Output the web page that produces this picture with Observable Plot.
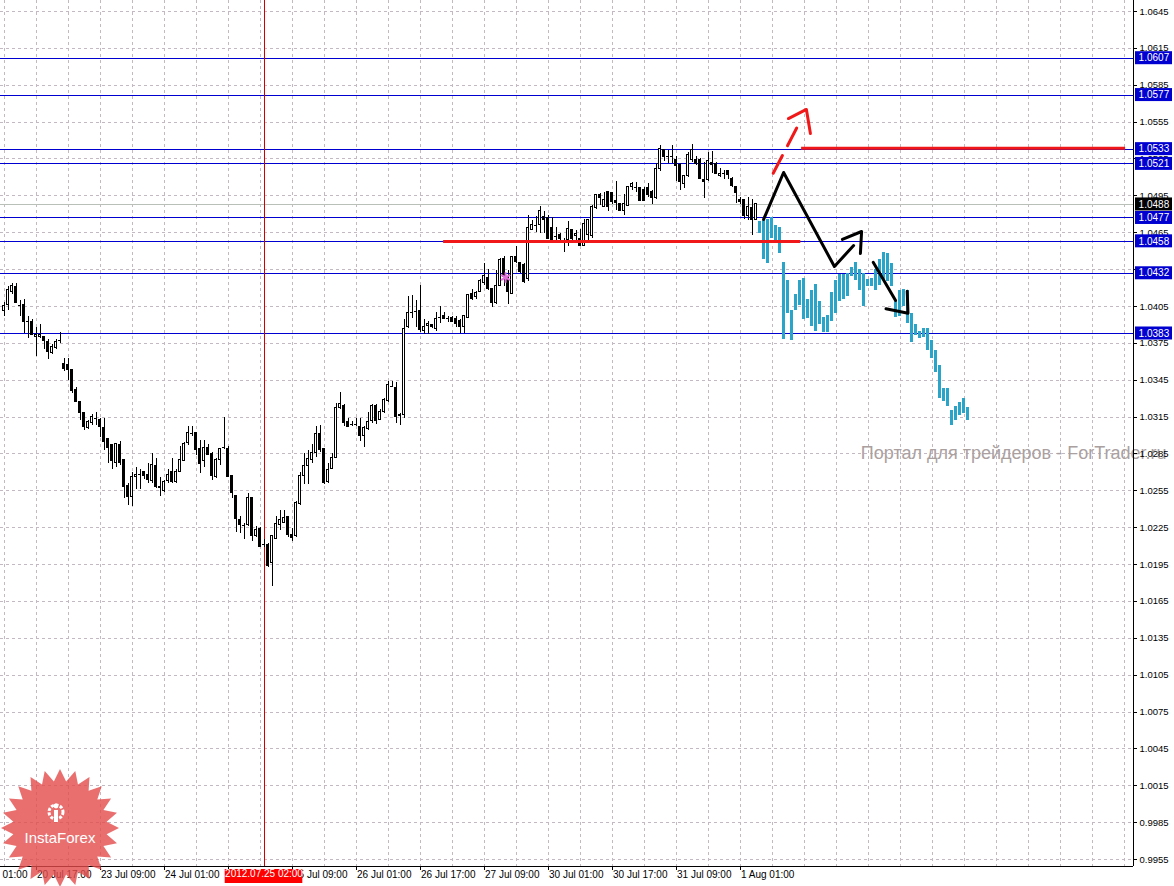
<!DOCTYPE html>
<html><head><meta charset="utf-8">
<script src="https://cdn.jsdelivr.net/npm/d3@7"></script>
<script src="https://cdn.jsdelivr.net/npm/@observablehq/plot@0.6"></script>
<style>html,body{margin:0;padding:0;background:#fff;overflow:hidden}</style>
</head><body><div id="chart"></div>
<script>
// ---- data (H1 candles) ----
const open = [1.0401,1.0406,1.0417,1.0421,1.0406,1.0406,1.0393,1.0392,1.0380,1.0380,
1.0380,1.0376,1.0367,1.0371,1.0377,1.0358,1.0357,1.0353,1.0337,1.0327,
1.0318,1.0306,1.0310,1.0314,1.0313,1.0306,1.0297,1.0292,1.0278,1.0292,
1.0280,1.0259,1.0250,1.0266,1.0268,1.0270,1.0268,1.0263,1.0275,1.0258,
1.0255,1.0263,1.0270,1.0262,1.0270,1.0279,1.0294,1.0302,1.0302,1.0289,
1.0279,1.0290,1.0285,1.0266,1.0280,1.0290,1.0289,1.0267,1.0251,1.0231,
1.0227,1.0227,1.0249,1.0218,1.0224,1.0211,1.0211,1.0196,1.0216,1.0227,
1.0229,1.0234,1.0219,1.0218,1.0244,1.0267,1.0275,1.0280,1.0286,1.0301,
1.0289,1.0262,1.0273,1.0282,1.0322,1.0324,1.0311,1.0309,1.0309,1.0307,
1.0300,1.0305,1.0312,1.0324,1.0313,1.0319,1.0328,1.0340,1.0339,1.0317,
1.0317,1.0388,1.0400,1.0401,1.0401,1.0385,1.0389,1.0390,1.0387,1.0396,
1.0397,1.0395,1.0396,1.0395,1.0393,1.0388,1.0396,1.0415,1.0413,1.0417,
1.0424,1.0428,1.0419,1.0408,1.0422,1.0444,1.0429,1.0415,1.0445,1.0440,
1.0439,1.0427,1.0467,1.0471,1.0471,1.0478,1.0477,1.0469,1.0462,1.0463,
1.0458,1.0459,1.0467,1.0462,1.0460,1.0454,1.0463,1.0462,1.0485,1.0496,
1.0486,1.0498,1.0497,1.0491,1.0488,1.0483,1.0487,1.0502,1.0502,1.0501,
1.0500,1.0501,1.0498,1.0493,1.0517,1.0532,1.0527,1.0527,1.0524,1.0520,
1.0505,1.0511,1.0524,1.0524,1.0524,1.0508,1.0508,1.0522,1.0521,1.0511,
1.0513,1.0515,1.0509,1.0502,1.0492,1.0492,1.0479,1.0485,1.0475];
const high = [1.0408,1.0421,1.0424,1.0424,1.0410,1.0411,1.0397,1.0394,1.0388,1.0390,
1.0380,1.0378,1.0374,1.0378,1.0384,1.0363,1.0363,1.0353,1.0339,1.0327,
1.0318,1.0312,1.0317,1.0319,1.0314,1.0314,1.0297,1.0293,1.0293,1.0295,
1.0280,1.0261,1.0270,1.0274,1.0272,1.0270,1.0277,1.0285,1.0281,1.0266,
1.0263,1.0272,1.0281,1.0272,1.0291,1.0294,1.0307,1.0307,1.0302,1.0296,
1.0296,1.0293,1.0286,1.0281,1.0289,1.0315,1.0291,1.0267,1.0251,1.0234,
1.0228,1.0253,1.0249,1.0226,1.0225,1.0215,1.0212,1.0218,1.0234,1.0239,
1.0239,1.0234,1.0224,1.0246,1.0270,1.0285,1.0288,1.0293,1.0307,1.0308,
1.0289,1.0277,1.0285,1.0326,1.0335,1.0325,1.0314,1.0311,1.0314,1.0314,
1.0307,1.0319,1.0325,1.0325,1.0321,1.0330,1.0344,1.0344,1.0343,1.0318,
1.0394,1.0413,1.0414,1.0410,1.0422,1.0394,1.0393,1.0390,1.0400,1.0405,
1.0400,1.0397,1.0397,1.0397,1.0394,1.0398,1.0414,1.0419,1.0417,1.0427,
1.0440,1.0435,1.0420,1.0434,1.0444,1.0446,1.0434,1.0446,1.0454,1.0440,
1.0440,1.0479,1.0475,1.0478,1.0486,1.0482,1.0479,1.0477,1.0469,1.0464,
1.0460,1.0474,1.0468,1.0467,1.0468,1.0476,1.0475,1.0487,1.0496,1.0497,
1.0498,1.0498,1.0498,1.0507,1.0489,1.0496,1.0503,1.0506,1.0506,1.0502,
1.0502,1.0505,1.0499,1.0521,1.0536,1.0533,1.0532,1.0536,1.0527,1.0521,
1.0511,1.0530,1.0537,1.0527,1.0525,1.0522,1.0530,1.0531,1.0522,1.0517,
1.0516,1.0516,1.0510,1.0502,1.0494,1.0492,1.0494,1.0492,1.0488];
const low = [1.0397,1.0402,1.0415,1.0408,1.0397,1.0383,1.0379,1.0381,1.0364,1.0379,
1.0370,1.0362,1.0366,1.0370,1.0375,1.0352,1.0345,1.0334,1.0327,1.0312,
1.0304,1.0305,1.0308,1.0308,1.0298,1.0288,1.0277,1.0272,1.0274,1.0276,
1.0249,1.0243,1.0242,1.0256,1.0256,1.0264,1.0261,1.0261,1.0257,1.0250,
1.0254,1.0261,1.0261,1.0261,1.0270,1.0279,1.0292,1.0299,1.0284,1.0269,
1.0274,1.0284,1.0263,1.0265,1.0276,1.0289,1.0266,1.0249,1.0221,1.0220,
1.0215,1.0226,1.0214,1.0217,1.0209,1.0209,1.0193,1.0177,1.0215,1.0223,
1.0228,1.0217,1.0214,1.0217,1.0243,1.0260,1.0260,1.0277,1.0282,1.0286,
1.0260,1.0261,1.0272,1.0282,1.0321,1.0307,1.0307,1.0307,1.0307,1.0295,
1.0290,1.0304,1.0310,1.0309,1.0312,1.0318,1.0327,1.0339,1.0310,1.0308,
1.0314,1.0387,1.0395,1.0388,1.0384,1.0382,1.0382,1.0387,1.0385,1.0391,
1.0395,1.0392,1.0392,1.0388,1.0383,1.0383,1.0396,1.0410,1.0411,1.0416,
1.0422,1.0418,1.0404,1.0407,1.0421,1.0421,1.0407,1.0415,1.0440,1.0432,
1.0424,1.0425,1.0467,1.0465,1.0464,1.0464,1.0460,1.0459,1.0456,1.0456,
1.0449,1.0454,1.0458,1.0459,1.0454,1.0454,1.0459,1.0460,1.0484,1.0487,
1.0486,1.0482,1.0488,1.0483,1.0483,1.0479,1.0487,1.0499,1.0498,1.0490,
1.0490,1.0494,1.0488,1.0492,1.0515,1.0523,1.0521,1.0521,1.0507,1.0499,
1.0501,1.0510,1.0522,1.0520,1.0508,1.0493,1.0507,1.0513,1.0512,1.0510,
1.0508,1.0508,1.0502,1.0489,1.0488,1.0476,1.0475,1.0463,1.0475];
const close = [1.0405,1.0418,1.0422,1.0408,1.0406,1.0392,1.0393,1.0382,1.0382,1.0382,
1.0377,1.0368,1.0372,1.0376,1.0377,1.0354,1.0353,1.0336,1.0327,1.0318,
1.0307,1.0311,1.0315,1.0314,1.0307,1.0295,1.0290,1.0279,1.0293,1.0278,
1.0258,1.0250,1.0266,1.0268,1.0268,1.0267,1.0264,1.0276,1.0258,1.0257,
1.0262,1.0268,1.0262,1.0270,1.0280,1.0293,1.0302,1.0302,1.0288,1.0277,
1.0290,1.0284,1.0267,1.0280,1.0289,1.0290,1.0266,1.0253,1.0232,1.0227,
1.0227,1.0249,1.0218,1.0223,1.0209,1.0211,1.0194,1.0218,1.0228,1.0231,
1.0233,1.0219,1.0217,1.0245,1.0267,1.0275,1.0281,1.0286,1.0301,1.0288,
1.0261,1.0272,1.0282,1.0322,1.0326,1.0310,1.0307,1.0309,1.0309,1.0300,
1.0306,1.0311,1.0324,1.0312,1.0319,1.0329,1.0341,1.0340,1.0315,1.0316,
1.0387,1.0400,1.0400,1.0401,1.0386,1.0388,1.0391,1.0388,1.0395,1.0396,
1.0395,1.0395,1.0392,1.0391,1.0388,1.0397,1.0414,1.0411,1.0416,1.0426,
1.0430,1.0419,1.0408,1.0422,1.0443,1.0429,1.0417,1.0445,1.0441,1.0433,
1.0425,1.0469,1.0471,1.0471,1.0483,1.0475,1.0460,1.0459,1.0462,1.0460,
1.0458,1.0468,1.0460,1.0464,1.0454,1.0472,1.0475,1.0486,1.0496,1.0493,
1.0492,1.0486,1.0490,1.0489,1.0483,1.0488,1.0502,1.0505,1.0502,1.0491,
1.0491,1.0496,1.0493,1.0517,1.0533,1.0527,1.0527,1.0527,1.0519,1.0506,
1.0511,1.0528,1.0532,1.0521,1.0509,1.0506,1.0523,1.0520,1.0513,1.0513,
1.0513,1.0512,1.0503,1.0497,1.0490,1.0479,1.0486,1.0475,1.0488];

// cyan projected bars (start right after the last candle)
const forecastStart = 189;
const forecastHigh = [1.0474,1.0475,1.0476,1.0477,1.0471,1.0469,1.0441,1.0426,1.0402,1.0415,
1.0426,1.0428,1.0411,1.0418,1.0423,1.0409,1.0396,1.0398,1.0416,1.0426,
1.0431,1.0431,1.0432,1.0437,1.0441,1.0435,1.0432,1.0427,1.0428,1.0435,
1.0443,1.0449,1.0448,1.0440,1.0410,1.0418,1.0419,1.0418,1.0399,1.0390,
1.0385,1.0387,1.0387,1.0377,1.0369,1.0357,1.0338,1.0338,1.0320,1.0324,
1.0327,1.0330,1.0323];
const forecastLow = [1.0464,1.0443,1.0440,1.0460,1.0459,1.0448,1.0378,1.0399,1.0377,1.0402,
1.0406,1.0394,1.0395,1.0389,1.0385,1.0390,1.0384,1.0384,1.0393,1.0399,
1.0409,1.0411,1.0413,1.0429,1.0426,1.0418,1.0405,1.0421,1.0421,1.0418,
1.0422,1.0427,1.0425,1.0421,1.0396,1.0397,1.0405,1.0391,1.0376,1.0381,
1.0379,1.0380,1.0369,1.0363,1.0351,1.0330,1.0328,1.0324,1.0308,1.0312,
1.0316,1.0318,1.0312];

// horizontal levels
const blueLevels = [1.0607, 1.0577, 1.0533, 1.0521, 1.0477, 1.0458, 1.0432, 1.0383];
const bidPrice = 1.0488;
const redLevels = [{price: 1.04579, from: 109.9, to: 199.2}, {price: 1.05338, from: 199.4, to: 280.4}];

// axis labels (the 24 Jul 17:00 label is hidden under the cursor date box)
const priceTicks = d3.range(0, 24).map(i => +(0.9955 + i * 0.003).toFixed(4));
const timeTickIndex = [-8, 8, 24, 40, 56, 72, 88, 104, 120, 136, 152, 168, 184];
const timeTickLabels = ["20 Jul 01:00","20 Jul 17:00","23 Jul 09:00","24 Jul 01:00","",
  "25 Jul 09:00","26 Jul 01:00","26 Jul 17:00","27 Jul 09:00","30 Jul 01:00","30 Jul 17:00",
  "31 Jul 09:00","1 Aug 01:00"];
const cursorIndex = 65, cursorLabel = "2012.07.25 02:00";

// hand drawn arrows (bar index, price)
const blackZigzag = [[189.9,1.04758],[194.9,1.05140],[207.6,1.04375],[212.4,1.04546]];
const blackHead1 = [[209.6,1.04595],[214.4,1.04660],[214.1,1.04481]];
const blackShaft2 = [[217.3,1.04410],[222.9,1.04098]];
const blackHead2 = [[220.5,1.04031],[226.0,1.03995],[225.8,1.04174]];
const redShaft = [[192.3,1.05134],[199.4,1.05579]];
const redHead = [[196.1,1.05579],[200.6,1.05653],[201.6,1.05457]];
const pinkStar = [[125.4,1.04286]];
const watermark = "Портал для трейдеров - ForTrader.ru";

// ---- build ----
const candles = open.map((o, i) => ({k: i, o, h: high[i], l: low[i], c: close[i]}));
const bodies = candles.filter(d => d.o !== d.c);
const dojis = candles.filter(d => d.o === d.c);
const forecast = forecastHigh.map((h, i) => ({k: forecastStart + i, h, l: forecastLow[i]}));
const timeTicks = timeTickIndex.map((k, i) => ({k, label: timeTickLabels[i]}));

const W = 1174, H = 886, mR = 41, mB = 20;
const plotW = W - mR, plotH = H - mB;
const pxPerBar = 4, x0px = 3.5;
const xDom = [-x0px / pxPerBar, (plotW - x0px) / pxPerBar];
const ppu = 12290; // pixels per price unit
const yTop = 1.0645 + 11 / ppu, yBot = yTop - plotH / ppu;
const px = v => v / ppu;
const xMax = xDom[1];
const gridIdx = d3.range(0, 284, 8);
const fmt = d3.format(".4f");
const navy = "#0000d0";
const xy = {x: d => d[0], y: d => d[1]};

const chart = Plot.plot({
  width: W, height: H,
  marginLeft: 0, marginRight: mR, marginTop: 0, marginBottom: mB,
  x: {type: "linear", domain: xDom, axis: null},
  y: {type: "linear", domain: [yBot, yTop], axis: null},
  style: {background: "#fff", fontFamily: "'Liberation Sans', Arial, sans-serif", overflow: "hidden"},
  marks: [
    // grid
    Plot.ruleY(priceTicks.filter(p => p > yBot && p < yTop), {y: d => d, stroke: "#c2b9c2", strokeDasharray: "3,3", shapeRendering: "crispEdges"}),
    Plot.ruleX(gridIdx, {x: d => d, stroke: "#c2b9c2", strokeDasharray: "3,3", shapeRendering: "crispEdges"}),
    // watermark
    Plot.text([watermark], {frameAnchor: "right", textAnchor: "end", dx: 33, dy: 20, fontSize: 18, fill: "#aaa0a0"}),
    // bid line
    Plot.ruleY([bidPrice], {y: d => d, stroke: "#b8c0b8", shapeRendering: "crispEdges"}),
    // blue levels
    Plot.ruleY(blueLevels, {y: d => d, stroke: navy, strokeWidth: 1, shapeRendering: "crispEdges"}),
    // cursor line
    Plot.ruleX([cursorIndex], {x: d => d, stroke: "#d00000", strokeWidth: 1, shapeRendering: "crispEdges"}),
    // candles
    Plot.ruleX(candles, {x: "k", y1: "l", y2: "h", stroke: "black", shapeRendering: "crispEdges"}),
    Plot.rect(bodies, {x1: d => d.k - 0.25, x2: d => d.k + 0.25, y1: "o", y2: "c",
      fill: d => d.c > d.o ? "white" : "black", stroke: "black", shapeRendering: "crispEdges"}),
    Plot.ruleY(dojis, {y: "o", x1: d => d.k - 0.375, x2: d => d.k + 0.375, stroke: "black", shapeRendering: "crispEdges"}),
    // forecast bars
    Plot.rect(forecast, {x1: d => d.k - 0.3, x2: d => d.k + 0.3, y1: "l", y2: "h", fill: "#2ba4c9", shapeRendering: "crispEdges"}),
    // red levels
    Plot.ruleY(redLevels, {y: "price", x1: "from", x2: "to", stroke: "#f01818", strokeWidth: 3}),
    // arrows
    Plot.line(redShaft, {...xy, stroke: "#f01818", strokeWidth: 3, strokeDasharray: "20,11"}),
    Plot.line(redHead, {...xy, stroke: "#f01818", strokeWidth: 3}),
    Plot.line(blackZigzag, {...xy, stroke: "black", strokeWidth: 3}),
    Plot.line(blackHead1, {...xy, stroke: "black", strokeWidth: 3}),
    Plot.line(blackShaft2, {...xy, stroke: "black", strokeWidth: 3}),
    Plot.line(blackHead2, {...xy, stroke: "black", strokeWidth: 3}),
    Plot.dot(pinkStar, {...xy, symbol: "asterisk", r: 5, stroke: "#e070d8", strokeWidth: 2}),
    // frame (right + bottom)
    Plot.ruleX([xMax], {x: d => d, stroke: "black", shapeRendering: "crispEdges"}),
    Plot.ruleY([yBot], {y: d => d, stroke: "black", shapeRendering: "crispEdges"}),
    // right axis
    Plot.ruleY(priceTicks, {y: d => d, x1: xMax, x2: xMax + 1, stroke: "black", shapeRendering: "crispEdges"}),
    Plot.text(priceTicks, {y: d => d, text: d => fmt(d), frameAnchor: "right", textAnchor: "start", dx: 6, fontSize: 9.5, fill: "black"}),
    // bottom axis
    Plot.ruleX(timeTicks, {x: "k", y1: yBot, y2: yBot - px(4), stroke: "black", shapeRendering: "crispEdges"}),
    Plot.text(timeTicks.filter(d => d.label), {x: "k", text: "label", frameAnchor: "bottom", dy: 11, dx: 1, textAnchor: "start", fontSize: 10, fill: "black"}),
    // cursor date label
    Plot.rect([cursorIndex], {x1: d => d - 9.7, x2: d => d + 9.7, y1: yBot - px(3), y2: yBot - px(17), fill: "#ff0000"}),
    Plot.text([cursorIndex], {x: d => d, text: () => cursorLabel, frameAnchor: "bottom", dy: 10, fontSize: 10, fill: "white"}),
    // price boxes
    Plot.rect(blueLevels, {y1: d => d - px(6.5), y2: d => d + px(6.5), x1: xMax + 0.5, x2: xMax + 9.75, fill: navy}),
    Plot.text(blueLevels, {y: d => d, text: d => fmt(d), x: xMax + 5.1, fontSize: 10, fill: "white"}),
    Plot.rect([bidPrice], {y1: d => d - px(6.5), y2: d => d + px(6.5), x1: xMax + 0.5, x2: xMax + 9.75, fill: "black"}),
    Plot.text([bidPrice], {y: d => d, text: d => fmt(d), x: xMax + 5.1, fontSize: 10, fill: "white"})
  ]
});
document.getElementById("chart").appendChild(chart);

// InstaForex badge (decoration, bottom-left)
const svg = d3.select(chart);
const g = svg.append("g").attr("transform", "translate(60,828)").attr("opacity", 0.8);
const pts = d3.range(48).map(i => {
  const a = i * Math.PI / 24 - Math.PI / 2, r = i % 2 ? 47 : 59;
  return [r * Math.cos(a), r * Math.sin(a)];
});
g.append("polygon").attr("points", pts.map(p => p.join(",")).join(" ")).attr("fill", "#e44c4c");
g.append("circle").attr("cx", -4).attr("cy", -16).attr("r", 7).attr("fill", "none").attr("stroke", "white").attr("stroke-width", 3).attr("stroke-dasharray", "3,1.6");
g.append("rect").attr("x", -6).attr("y", -18).attr("width", 4).attr("height", 12).attr("fill", "white");
g.append("circle").attr("cx", -4).attr("cy", -22).attr("r", 2.4).attr("fill", "white");
g.append("text").attr("x", 0).attr("y", 15).attr("text-anchor", "middle").attr("fill", "white")
  .attr("font-size", 15).attr("font-family", "'Liberation Sans', Arial, sans-serif").text("InstaForex");
</script></body></html>
